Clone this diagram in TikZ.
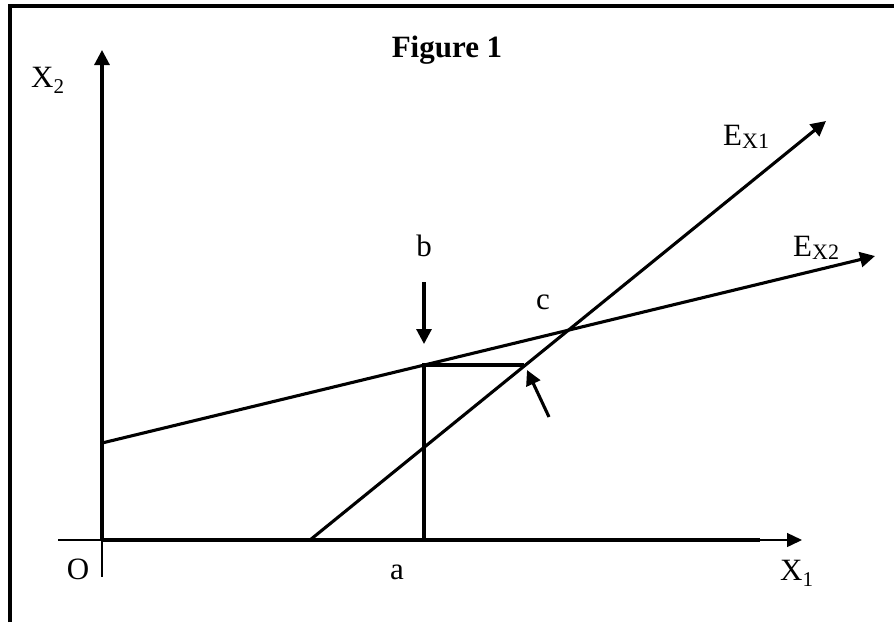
\documentclass[tikz,border=0pt]{standalone}
\usepackage{fontspec}
\setmainfont{Liberation Serif}
\usetikzlibrary{arrows.meta}
\newcommand{\lowsub}[1]{\raisebox{-.22em}{\fontsize{21}{21}\selectfont #1}}
\newcommand{\idxsub}[1]{\raisebox{-.12em}{\fontsize{22}{22}\selectfont #1}}
\tikzset{
	lbl/.style={anchor=base, inner sep=0pt, font=\fontsize{31}{37}\selectfont},
	ln/.style={line width=3.1pt},
	tip/.style={-{Triangle[length=15pt,width=15pt]}},
}
\begin{document}
\begin{tikzpicture}[x=1pt, y=-1pt]
	\useasboundingbox (0,0) rectangle (894,622) ;
	% frame, cut off at right and bottom
	\draw[ln] (10,622) -- (10,6) -- (894,6) ;
	% axes
	\coordinate (O) at (102,540) ;
	\coordinate (ytop) at (102,50) ;
	\coordinate (ybot) at (102,577) ;
	\coordinate (xleft) at (58,540) ;
	\coordinate (xthick) at (760,540) ;
	\coordinate (xend) at (802,540) ;
	\draw[ln, tip] (O) -- (ytop) ;
	\draw[line width=1.4pt] (O) -- (ybot) ;
	\draw[line width=1.4pt, -{Triangle[length=15pt,width=14pt]}] (xleft) -- (xend) ;
	\draw[ln] (O) -- (xthick) ;
	% the two lines
	\coordinate (ex2s) at (102,443) ;
	\coordinate (ex2e) at (875,256) ;
	\coordinate (ex1s) at (310,540) ;
	\coordinate (ex1e) at (826,121) ;
	\draw[ln, tip] (ex2s) -- (ex2e) ;
	\draw[ln, tip] (ex1s) -- (ex1e) ;
	% a, b and the step across
	\coordinate (pa) at (424,540) ;
	\coordinate (pb) at (424,365) ;
	\coordinate (pq) at (524,365) ;
	\draw[ln] (pa) -- (pb) -- (pq) ;
	\coordinate (bfrom) at (424,282) ;
	\coordinate (bto) at (424,344) ;
	\draw[ln, tip] (bfrom) -- (bto) ;
	\coordinate (qfrom) at (549,417) ;
	\coordinate (qto) at (527,370) ;
	\draw[ln, tip] (qfrom) -- (qto) ;
	% labels
	\node (title)[lbl, font=\fontsize{31}{37}\selectfont\bfseries] at (447,57) {Figure 1} ;
	\node (lx2)[lbl, anchor=base west] at (31,87) {X\lowsub{2}} ;
	\node (lx1)[lbl, anchor=base west] at (780,580) {X\lowsub{1}} ;
	\node (lo)[lbl] at (78,579) {O} ;
	\node (la)[lbl] at (397,579) {a} ;
	\node (lb)[lbl] at (424,256) {b} ;
	\node (lc)[lbl] at (543,309) {c} ;
	\node (lex1)[lbl, anchor=base west] at (723,145) {E\idxsub{X1}} ;
	\node (lex2)[lbl, anchor=base west] at (793,256) {E\idxsub{X2}} ;
\end{tikzpicture}
\end{document}
